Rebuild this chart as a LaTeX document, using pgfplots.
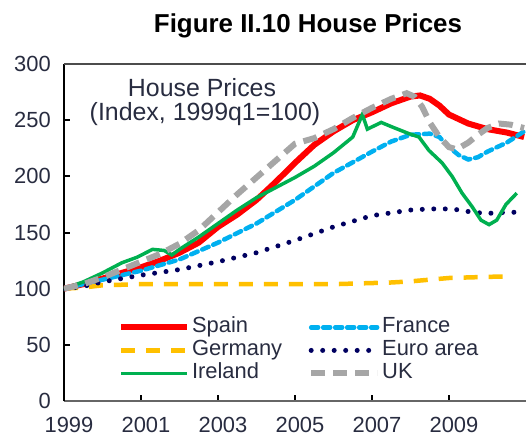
\documentclass[border=0pt]{standalone}
\usepackage{pgfplots}
\pgfplotsset{compat=1.18}
\usepackage{fontspec}
\setmainfont{Liberation Sans}
\definecolor{cSpain}{RGB}{255,0,0}
\definecolor{cGermany}{RGB}{255,192,0}
\definecolor{cIreland}{RGB}{0,176,80}
\definecolor{cFrance}{RGB}{0,176,240}
\definecolor{cEuro}{RGB}{0,0,96}
\definecolor{cUK}{RGB}{166,166,166}
\definecolor{txt}{RGB}{40,44,64}
\begin{document}
\begin{tikzpicture}
\begin{axis}[
  name=ax, at={(0,0)}, anchor=south west,
  scale only axis, width=462bp, height=337bp,
  xmin=1999, xmax=2011, ymin=0, ymax=300,
  xtick={1999,2001,2003,2005,2007,2009},
  xticklabels={1999,2001,2003,2005,2007,2009},
  ytick={0,50,100,150,200,250,300},
  axis x line*=bottom, axis y line*=left,
  x axis line style={line width=2bp, draw=black!60},
  y axis line style={line width=2.6bp, draw=black},
  tick align=inside, major tick length=6bp,
  tick style={line width=2bp, black},
  /pgf/number format/assume math mode=true,
  ticklabel style={font=\fontsize{22}{24}\selectfont, text=txt},
  yticklabel style={inner sep=0pt, xshift=-13bp},
  xticklabel style={inner sep=0pt, anchor=north, yshift=-16bp, xshift=5bp},
  legend columns=2,
  legend cell align=left,
  legend image code/.code={\draw[#1] (0bp,0bp) -- (66bp,0bp);},
  legend style={at={(axis description cs:0.117,0.254)}, anchor=north west,
    draw=none, fill=none, inner sep=0pt, outer sep=0pt,
    font=\fontsize{22}{24}\selectfont, text=txt,
    nodes={inner sep=2bp, text height=15.5bp, text depth=4.5bp},
    row sep=-1bp,
    /tikz/every even column/.append style={column sep=24bp}},
]
\addplot[cSpain, line width=6bp] coordinates {
(1999,100) (1999.5,104) (2000,109) (2000.5,114) (2001,119) (2001.5,125) (2002,132) (2002.5,141)
(2003,155) (2003.5,166) (2004,179) (2004.5,195) (2005,212) (2005.5,228) (2006,240) (2006.5,250)
(2007,257) (2007.5,265) (2008,271) (2008.25,272) (2008.5,269) (2008.75,263) (2009,255) (2009.5,247)
(2010,242) (2010.5,239) (2010.95,235)};
\addlegendentry{Spain}
\addplot[cFrance, line width=4.5bp, line cap=round, dash pattern=on 7bp off 5bp] coordinates {
(1999,100) (2000,108) (2001,116) (2002,126) (2003,141) (2004,158) (2005,179) (2006,203)
(2007,222) (2007.5,231) (2008,237) (2008.5,238) (2008.75,235) (2009,226) (2009.25,219) (2009.5,215)
(2009.75,217) (2010,222) (2010.5,230) (2010.95,240)};
\addlegendentry{France}
\addplot[cGermany, line width=4.5bp, dash pattern=on 14bp off 11bp] coordinates {
(1999,100) (1999.5,101) (2000,103) (2001,104) (2006,104) (2006.5,104.5) (2007,105) (2007.5,105.5)
(2008,106.5) (2008.5,108) (2009,109.5) (2009.5,110) (2010,110.5) (2010.6,111)};
\addlegendentry{Germany}
\addplot[cEuro, line width=5bp, line cap=round, dash pattern=on 0bp off 11.5bp] coordinates {
(1999,100) (1999.5,102) (2000,106) (2000.5,109) (2001,112) (2002,117) (2003,124) (2004,132)
(2005,143) (2006,155) (2007,165) (2008,170) (2008.5,171) (2009,171) (2009.3,170) (2009.6,168)
(2010,167) (2010.5,168) (2010.95,168)};
\addlegendentry{Euro area}
\addplot[cIreland, line width=3.5bp] coordinates {
(1999,100) (1999.5,106) (2000,114) (2000.5,123) (2000.9,128) (2001.3,135) (2001.6,134) (2001.8,130)
(2002,135) (2002.5,146) (2003,158) (2003.5,170) (2004,181) (2004.5,190) (2005,199) (2005.5,209)
(2006,221) (2006.5,235) (2006.75,255) (2006.88,242) (2007.24,248) (2007.52,244) (2007.96,238)
(2008.22,235) (2008.48,223) (2008.82,212) (2009.08,200) (2009.34,185) (2009.6,173) (2009.83,161)
(2010.04,157) (2010.24,161) (2010.48,175) (2010.76,185)};
\addlegendentry{Ireland}
\addplot[cUK, line width=6bp, dash pattern=on 14bp off 8bp] coordinates {
(1999,100) (1999.5,104) (2000,110) (2000.5,117) (2001,124) (2001.5,131) (2002,140) (2002.5,152)
(2003,168) (2003.5,184) (2004,199) (2004.5,214) (2005,229) (2005.5,234) (2006,242) (2006.5,252)
(2007,261) (2007.5,269) (2007.9,274) (2008.1,271) (2008.3,262) (2008.5,248) (2008.75,235) (2009,226)
(2009.2,224) (2009.5,230) (2009.75,237) (2010,243) (2010.3,247) (2010.6,246) (2010.95,243)};
\addlegendentry{UK}
\end{axis}
\draw[line width=2.2bp, black!70] (ax.north west) -- (ax.north east);
\node[anchor=base, font=\bfseries\fontsize{26}{29}\selectfont, text=black] at ([shift={(244bp,368bp)}]ax.south west) {Figure II.10 House Prices};
\node[anchor=base, font=\fontsize{25}{28}\selectfont, text=txt] at ([shift={(138bp,304bp)}]ax.south west) {House Prices};
\node[anchor=base, font=\fontsize{25}{28}\selectfont, text=txt] at ([shift={(141bp,280bp)}]ax.south west) {(Index, 1999q1=100)};
\pgfresetboundingbox
\path ([shift={(-64bp,-37bp)}]ax.south west) rectangle ([shift={(462bp,401bp)}]ax.south west);
\end{tikzpicture}
\end{document}
